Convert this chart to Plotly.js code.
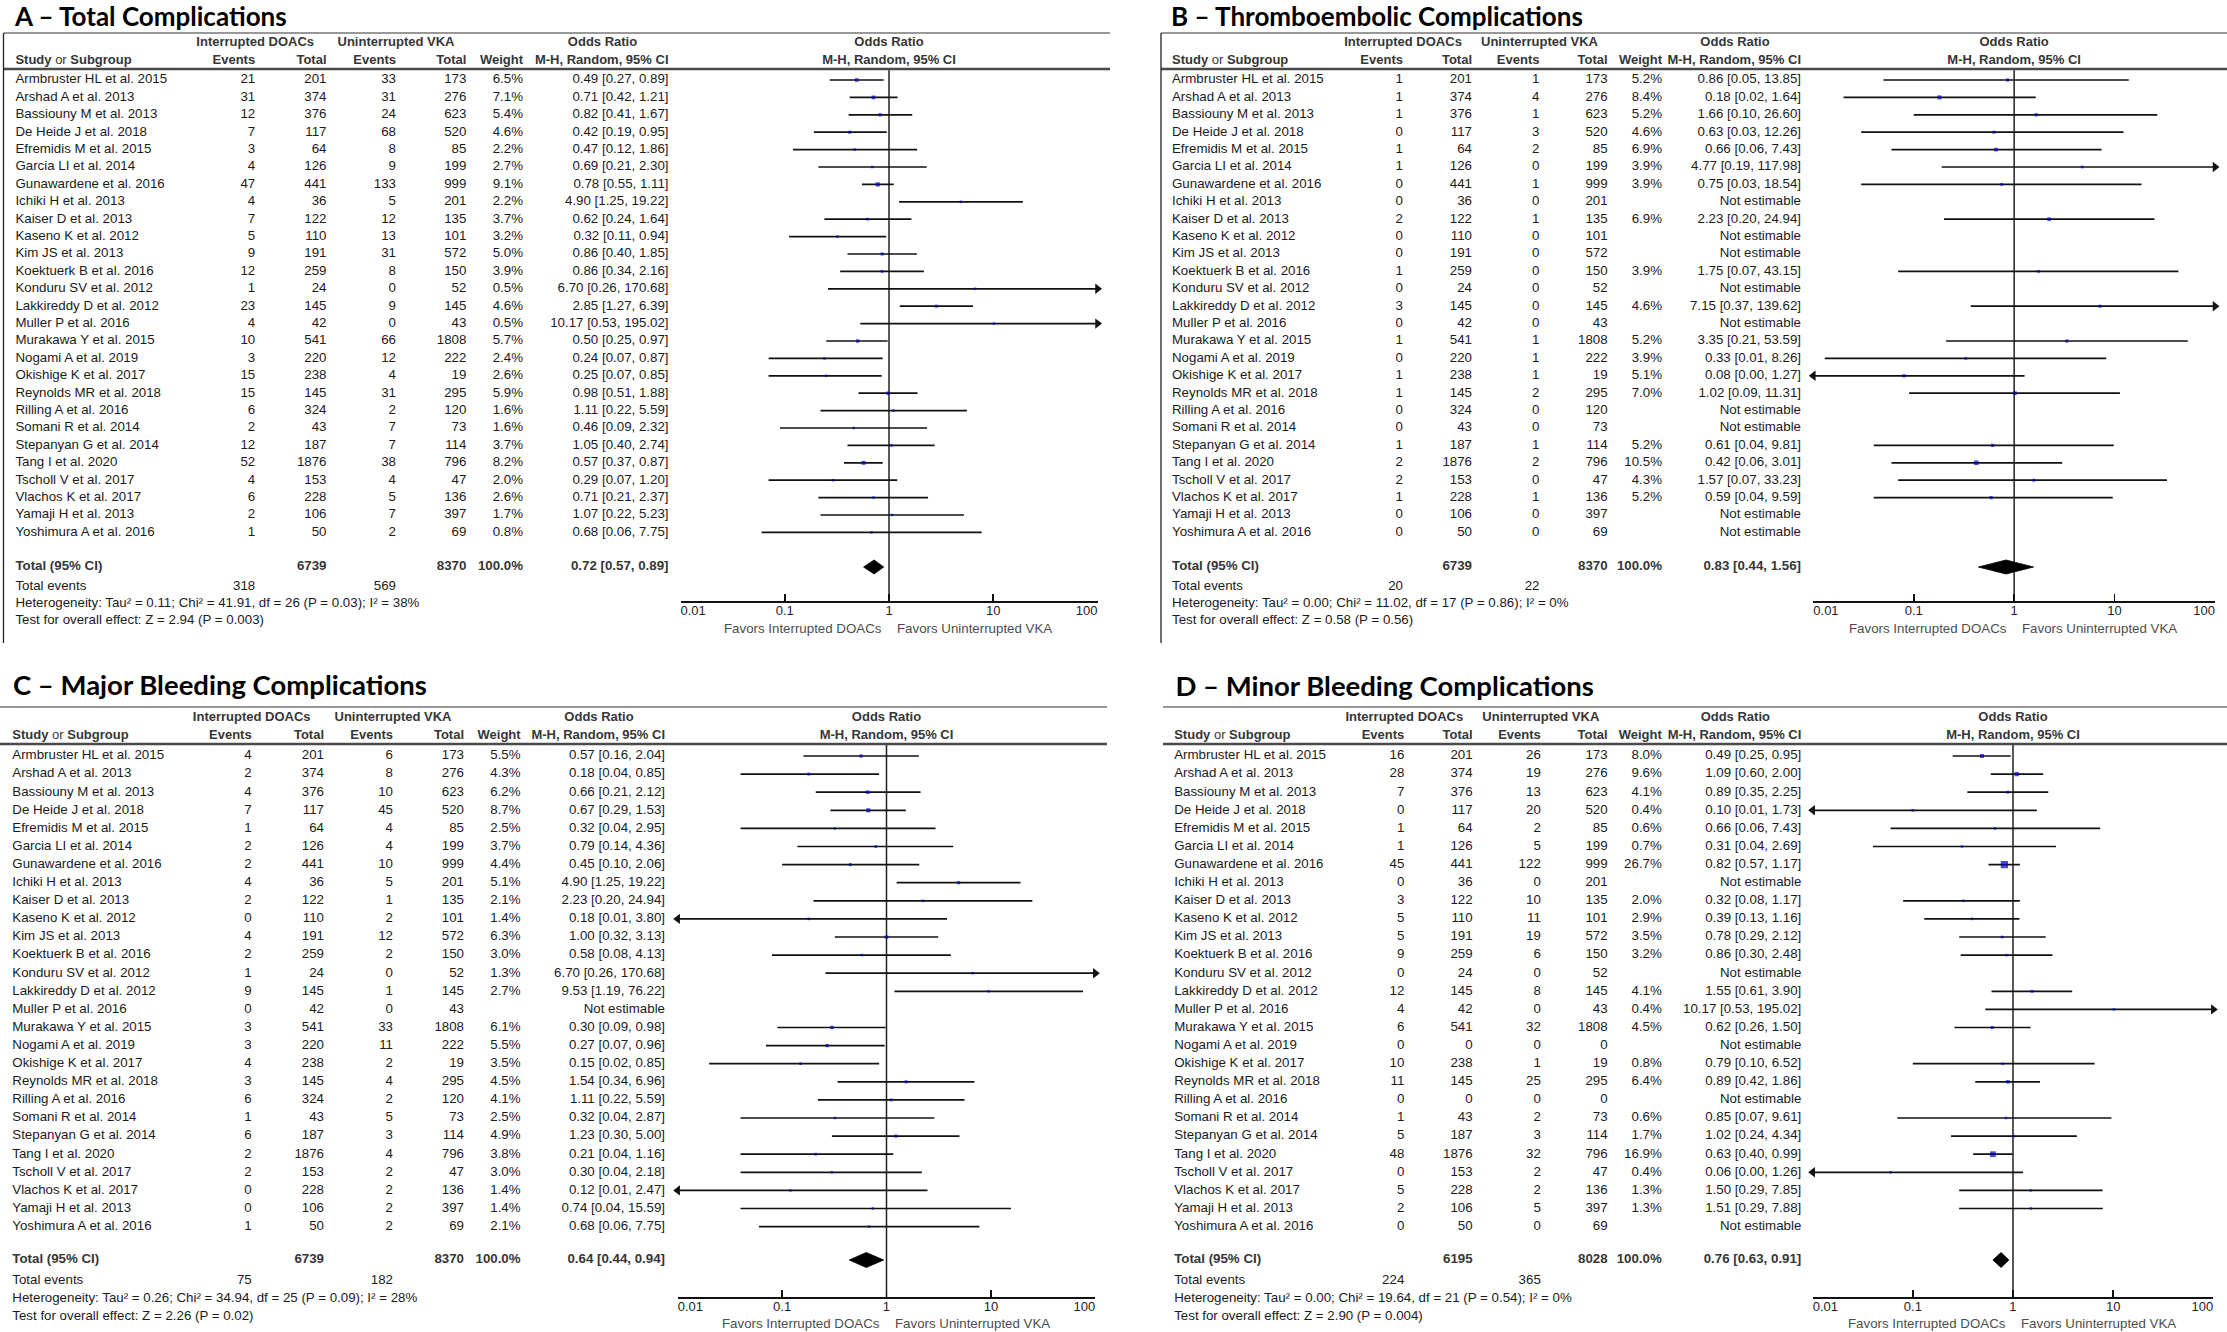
<!DOCTYPE html>
<html><head><meta charset="utf-8">
<script src="https://cdn.plot.ly/plotly-3.0.1.min.js"></script>
<style>html,body{margin:0;padding:0;background:#fff}#chart{width:2227px;height:1332px}</style>
</head><body><div id="chart"></div>
<script>
// ---------------- DATA ----------------
const studies = ['Armbruster HL et al. 2015','Arshad A et al. 2013','Bassiouny M et al. 2013','De Heide J et al. 2018','Efremidis M et al. 2015','Garcia LI et al. 2014','Gunawardene et al. 2016','Ichiki H et al. 2013','Kaiser D et al. 2013','Kaseno K et al. 2012','Kim JS et al. 2013','Koektuerk B et al. 2016','Konduru SV et al. 2012','Lakkireddy D et al. 2012','Muller P et al. 2016','Murakawa Y et al. 2015','Nogami A et al. 2019','Okishige K et al. 2017','Reynolds MR et al. 2018','Rilling A et al. 2016','Somani R et al. 2014','Stepanyan G et al. 2014','Tang I et al. 2020','Tscholl V et al. 2017','Vlachos K et al. 2017','Yamaji H et al. 2013','Yoshimura A et al. 2016'];
const tickValues = [0.01, 0.1, 1, 10, 100];
const tickLabels = ['0.01', '0.1', '1', '10', '100'];
const groupHeaders = ['Interrupted DOACs', 'Uninterrupted VKA', 'Odds Ratio'];
const columnHeaders = ['Events', 'Total', 'Events', 'Total', 'Weight', 'M-H, Random, 95% CI'];
const favorLabels = ['Favors Interrupted DOACs', 'Favors Uninterrupted VKA'];

// A – Total Complications
const aTitle = 'A – Total Complications';
const aEvDoac = [21,31,12,7,3,4,47,4,7,5,9,12,1,23,4,10,3,15,15,6,2,12,52,4,6,2,1];
const aTotDoac = [201,374,376,117,64,126,441,36,122,110,191,259,24,145,42,541,220,238,145,324,43,187,1876,153,228,106,50];
const aEvVka = [33,31,24,68,8,9,133,5,12,13,31,8,0,9,0,66,12,4,31,2,7,7,38,4,5,7,2];
const aTotVka = [173,276,623,520,85,199,999,201,135,101,572,150,52,145,43,1808,222,19,295,120,73,114,796,47,136,397,69];
const aWeight = [6.5,7.1,5.4,4.6,2.2,2.7,9.1,2.2,3.7,3.2,5.0,3.9,0.5,4.6,0.5,5.7,2.4,2.6,5.9,1.6,1.6,3.7,8.2,2.0,2.6,1.7,0.8];
const aOR = [0.49,0.71,0.82,0.42,0.47,0.69,0.78,4.90,0.62,0.32,0.86,0.86,6.70,2.85,10.17,0.50,0.24,0.25,0.98,1.11,0.46,1.05,0.57,0.29,0.71,1.07,0.68];
const aLo = [0.27,0.42,0.41,0.19,0.12,0.21,0.55,1.25,0.24,0.11,0.40,0.34,0.26,1.27,0.53,0.25,0.07,0.07,0.51,0.22,0.09,0.40,0.37,0.07,0.21,0.22,0.06];
const aHi = [0.89,1.21,1.67,0.95,1.86,2.30,1.11,19.22,1.64,0.94,1.85,2.16,170.68,6.39,195.02,0.97,0.87,0.85,1.88,5.59,2.32,2.74,0.87,1.20,2.37,5.23,7.75];
const aTotals = [6739, 8370];
const aTotalEvents = [318, 569];
const aPooled = [0.72, 0.57, 0.89];
const aHet = 'Heterogeneity: Tau² = 0.11; Chi² = 41.91, df = 26 (P = 0.03); I² = 38%';
const aTest = 'Test for overall effect: Z = 2.94 (P = 0.003)';

// B – Thromboembolic Complications
const bTitle = 'B – Thromboembolic Complications';
const bEvDoac = [1,1,1,0,1,1,0,0,2,0,0,1,0,3,0,1,0,1,1,0,0,1,2,2,1,0,0];
const bTotDoac = [201,374,376,117,64,126,441,36,122,110,191,259,24,145,42,541,220,238,145,324,43,187,1876,153,228,106,50];
const bEvVka = [1,4,1,3,2,0,1,0,1,0,0,0,0,0,0,1,1,1,2,0,0,1,2,0,1,0,0];
const bTotVka = [173,276,623,520,85,199,999,201,135,101,572,150,52,145,43,1808,222,19,295,120,73,114,796,47,136,397,69];
const bWeight = [5.2,8.4,5.2,4.6,6.9,3.9,3.9,null,6.9,null,null,3.9,null,4.6,null,5.2,3.9,5.1,7.0,null,null,5.2,10.5,4.3,5.2,null,null];
const bOR = [0.86,0.18,1.66,0.63,0.66,4.77,0.75,null,2.23,null,null,1.75,null,7.15,null,3.35,0.33,0.08,1.02,null,null,0.61,0.42,1.57,0.59,null,null];
const bLo = [0.05,0.02,0.10,0.03,0.06,0.19,0.03,null,0.20,null,null,0.07,null,0.37,null,0.21,0.013,0.004,0.09,null,null,0.04,0.06,0.07,0.04,null,null];
const bHi = [13.85,1.64,26.60,12.26,7.43,117.98,18.54,null,24.94,null,null,43.15,null,139.62,null,53.59,8.26,1.27,11.31,null,null,9.81,3.01,33.23,9.59,null,null];
const bTotals = [6739, 8370];
const bTotalEvents = [20, 22];
const bPooled = [0.83, 0.44, 1.56];
const bHet = 'Heterogeneity: Tau² = 0.00; Chi² = 11.02, df = 17 (P = 0.86); I² = 0%';
const bTest = 'Test for overall effect: Z = 0.58 (P = 0.56)';

// C – Major Bleeding Complications
const cTitle = 'C – Major Bleeding Complications';
const cEvDoac = [4,2,4,7,1,2,2,4,2,0,4,2,1,9,0,3,3,4,3,6,1,6,2,2,0,0,1];
const cTotDoac = [201,374,376,117,64,126,441,36,122,110,191,259,24,145,42,541,220,238,145,324,43,187,1876,153,228,106,50];
const cEvVka = [6,8,10,45,4,4,10,5,1,2,12,2,0,1,0,33,11,2,4,2,5,3,4,2,2,2,2];
const cTotVka = [173,276,623,520,85,199,999,201,135,101,572,150,52,145,43,1808,222,19,295,120,73,114,796,47,136,397,69];
const cWeight = [5.5,4.3,6.2,8.7,2.5,3.7,4.4,5.1,2.1,1.4,6.3,3.0,1.3,2.7,null,6.1,5.5,3.5,4.5,4.1,2.5,4.9,3.8,3.0,1.4,1.4,2.1];
const cOR = [0.57,0.18,0.66,0.67,0.32,0.79,0.45,4.90,2.23,0.18,1.00,0.58,6.70,9.53,null,0.30,0.27,0.15,1.54,1.11,0.32,1.23,0.21,0.30,0.12,0.74,0.68];
const cLo = [0.16,0.04,0.21,0.29,0.04,0.14,0.10,1.25,0.20,0.008,0.32,0.08,0.26,1.19,null,0.09,0.07,0.02,0.34,0.22,0.04,0.30,0.04,0.04,0.007,0.04,0.06];
const cHi = [2.04,0.85,2.12,1.53,2.95,4.36,2.06,19.22,24.94,3.80,3.13,4.13,170.68,76.22,null,0.98,0.96,0.85,6.96,5.59,2.87,5.00,1.16,2.18,2.47,15.59,7.75];
const cTotals = [6739, 8370];
const cTotalEvents = [75, 182];
const cPooled = [0.64, 0.44, 0.94];
const cHet = 'Heterogeneity: Tau² = 0.26; Chi² = 34.94, df = 25 (P = 0.09); I² = 28%';
const cTest = 'Test for overall effect: Z = 2.26 (P = 0.02)';

// D – Minor Bleeding Complications
const dTitle = 'D – Minor Bleeding Complications';
const dEvDoac = [16,28,7,0,1,1,45,0,3,5,5,9,0,12,4,6,0,10,11,0,1,5,48,0,5,2,0];
const dTotDoac = [201,374,376,117,64,126,441,36,122,110,191,259,24,145,42,541,0,238,145,0,43,187,1876,153,228,106,50];
const dEvVka = [26,19,13,20,2,5,122,0,10,11,19,6,0,8,0,32,0,1,25,0,2,3,32,2,2,5,0];
const dTotVka = [173,276,623,520,85,199,999,201,135,101,572,150,52,145,43,1808,0,19,295,0,73,114,796,47,136,397,69];
const dWeight = [8.0,9.6,4.1,0.4,0.6,0.7,26.7,null,2.0,2.9,3.5,3.2,null,4.1,0.4,4.5,null,0.8,6.4,null,0.6,1.7,16.9,0.4,1.3,1.3,null];
const dOR = [0.49,1.09,0.89,0.10,0.66,0.31,0.82,null,0.32,0.39,0.78,0.86,null,1.55,10.17,0.62,null,0.79,0.89,null,0.85,1.02,0.63,0.06,1.50,1.51,null];
const dLo = [0.25,0.60,0.35,0.006,0.06,0.04,0.57,null,0.08,0.13,0.29,0.30,null,0.61,0.53,0.26,null,0.10,0.42,null,0.07,0.24,0.40,0.003,0.29,0.29,null];
const dHi = [0.95,2.00,2.25,1.73,7.43,2.69,1.17,null,1.17,1.16,2.12,2.48,null,3.90,195.02,1.50,null,6.52,1.86,null,9.61,4.34,0.99,1.26,7.85,7.88,null];
const dTotals = [6195, 8028];
const dTotalEvents = [224, 365];
const dPooled = [0.76, 0.63, 0.91];
const dHet = 'Heterogeneity: Tau² = 0.00; Chi² = 19.64, df = 21 (P = 0.54); I² = 0%';
const dTest = 'Test for overall effect: Z = 2.90 (P = 0.004)';

// ---------------- LAYOUT GEOMETRY (page pixels) ----------------
const W = 2227, H = 1332;
const FONT = 'Liberation Sans, Arial, Helvetica, sans-serif';
const TITLE_FONT = 'Lato, Carlito, Calibri, sans-serif';
const TXT = '#1a1a1a', HDR = '#363636';
const vTop = {title:19, titleSize:26, top:33, h1:43, h2:61, hline:69, row0:80, step:17.4, total:567, events:587, het:604, test:621, axis:601, tick:612, fav:628, borderBottom:643, dia:7};
const vBot = {title:688, titleSize:27.5, top:707, h1:718, h2:736, hline:744, row0:756, step:18.1, total:1260, events:1281, het:1299, test:1317, axis:1297, tick:1308, fav:1323, borderBottom:null, dia:7.5};

const panels = [
  {title:aTitle, ev1:aEvDoac, tot1:aTotDoac, ev2:aEvVka, tot2:aTotVka, w:aWeight, or:aOR, lo:aLo, hi:aHi, totals:aTotals, tev:aTotalEvents, pooled:aPooled, het:aHet, test:aTest,
   v:vTop, cols:{title:15, name:15.4, ev1:255.2, tot1:326.5, ev2:396, tot2:466.4, w:523, ci:668.5}, forest:[680.5,1097.5], lines:[3.5,1110], border:3.5},
  {title:bTitle, ev1:bEvDoac, tot1:bTotDoac, ev2:bEvVka, tot2:bTotVka, w:bWeight, or:bOR, lo:bLo, hi:bHi, totals:bTotals, tev:bTotalEvents, pooled:bPooled, het:bHet, test:bTest,
   v:vTop, cols:{title:1171, name:1172, ev1:1403, tot1:1472, ev2:1539.5, tot2:1607.6, w:1662, ci:1801}, forest:[1813.3,2215], lines:[1161,2227], border:1161},
  {title:cTitle, ev1:cEvDoac, tot1:cTotDoac, ev2:cEvVka, tot2:cTotVka, w:cWeight, or:cOR, lo:cLo, hi:cHi, totals:cTotals, tev:cTotalEvents, pooled:cPooled, het:cHet, test:cTest,
   v:vBot, cols:{title:13, name:12.3, ev1:251.7, tot1:324, ev2:393, tot2:464, w:520.6, ci:665}, forest:[677.7,1095.3], lines:[0,1107], border:null},
  {title:dTitle, ev1:dEvDoac, tot1:dTotDoac, ev2:dEvVka, tot2:dTotVka, w:dWeight, or:dOR, lo:dLo, hi:dHi, totals:dTotals, tev:dTotalEvents, pooled:dPooled, het:dHet, test:dTest,
   v:{...vBot, title:689.5}, cols:{title:1175.5, name:1174.2, ev1:1404.3, tot1:1472.6, ev2:1540.8, tot2:1607.6, w:1661.8, ci:1801.3}, forest:[1812.7,2213.3], lines:[1163,2227], border:null}
];

// ---------------- BUILD ----------------
const traces = [], shapes = [], annotations = [];
const layout = {
  width: W, height: H, margin: {l:0, r:0, t:0, b:0, pad:0},
  paper_bgcolor: '#ffffff', plot_bgcolor: 'rgba(0,0,0,0)', showlegend: false,
  xaxis: {domain:[0,1], range:[0,W], visible:false, fixedrange:true},
  yaxis: {domain:[0,1], range:[H,0], visible:false, fixedrange:true},
  shapes: shapes, annotations: annotations
};

function textTrace(xs, ys, texts, pos, o) {
  o = o || {};
  return {type:'scatter', mode:'text', x:xs, y:ys, text:texts, textposition:pos,
    textfont:{family:o.family || FONT, size:o.size || 13.3, color:o.color || TXT},
    xaxis:o.xaxis || 'x', yaxis:'y', hoverinfo:'skip', cliponaxis:false, showlegend:false};
}
const f2 = v => v.toFixed(2);
const ciText = (o, l, h) => f2(o) + ' [' + f2(l) + ', ' + f2(h) + ']';

panels.forEach((p, k) => {
  const v = p.v, c = p.cols, xa = 'x' + (k + 2);
  const rowY = studies.map((_, i) => v.row0 + i * v.step);
  const same = (val) => studies.map(() => val);

  // title
  traces.push(textTrace([c.title], [v.title], ['<b>' + p.title + '</b>'], 'middle right', {family:TITLE_FONT, size:v.titleSize, color:'#000'}));
  // group headers
  traces.push(textTrace([c.ev1, c.ev2, c.ci - 66], [v.h1, v.h1, v.h1], groupHeaders.map(t => '<b>' + t + '</b>'), 'middle center', {color:HDR, size:13}));
  traces.push(textTrace([c.name], [v.h2], ['<b>Study</b> or <b>Subgroup</b>'], 'middle right', {color:HDR, size:13}));
  traces.push(textTrace([c.ev1, c.tot1, c.ev2, c.tot2, c.w, c.ci], columnHeaders.map(() => v.h2), columnHeaders.map(t => '<b>' + t + '</b>'), 'middle left', {color:HDR, size:13}));

  // study rows
  traces.push(textTrace(same(c.name), rowY, studies, 'middle right'));
  traces.push(textTrace(same(c.ev1), rowY, p.ev1.map(String), 'middle left'));
  traces.push(textTrace(same(c.tot1), rowY, p.tot1.map(String), 'middle left'));
  traces.push(textTrace(same(c.ev2), rowY, p.ev2.map(String), 'middle left'));
  traces.push(textTrace(same(c.tot2), rowY, p.tot2.map(String), 'middle left'));
  traces.push(textTrace(same(c.w), rowY, p.w.map(w => w == null ? '' : w.toFixed(1) + '%'), 'middle left'));
  traces.push(textTrace(same(c.ci), rowY, p.or.map((o, i) => o == null ? 'Not estimable' : ciText(o, p.lo[i], p.hi[i])), 'middle left'));

  // totals
  traces.push(textTrace([c.name], [v.total], ['<b>Total (95% CI)</b>'], 'middle right', {color:HDR}));
  traces.push(textTrace([c.tot1, c.tot2, c.w, c.ci], [v.total, v.total, v.total, v.total],
    ['<b>' + p.totals[0] + '</b>', '<b>' + p.totals[1] + '</b>', '<b>100.0%</b>', '<b>' + ciText(p.pooled[0], p.pooled[1], p.pooled[2]) + '</b>'], 'middle left', {color:HDR}));
  traces.push(textTrace([c.name, c.name, c.name], [v.events, v.het, v.test], ['Total events', p.het, p.test], 'middle right'));
  traces.push(textTrace([c.ev1, c.ev2], [v.events, v.events], p.tev.map(String), 'middle left'));

  // table lines
  shapes.push({type:'line', xref:'x', yref:'y', x0:p.lines[0], x1:p.lines[1], y0:v.top, y1:v.top, line:{color:'#333', width:1.2}});
  shapes.push({type:'line', xref:'x', yref:'y', x0:p.lines[0], x1:p.lines[1], y0:v.hline, y1:v.hline, line:{color:'#4a4a4a', width:2.4}});
  if (p.border != null) shapes.push({type:'line', xref:'x', yref:'y', x0:p.border, x1:p.border, y0:v.top, y1:v.borderBottom, line:{color:'#222', width:1.3}});

  // forest axis
  layout['xaxis' + (k + 2)] = {type:'log', range:[-2, 2], domain:[p.forest[0] / W, p.forest[1] / W], anchor:'free', position:1 - v.axis / H,
    showline:true, linecolor:'#111', linewidth:1.6, ticks:'inside', ticklen:7, tickwidth:1.6, tickcolor:'#111',
    tickvals:tickValues, showticklabels:false, showgrid:false, zeroline:false, fixedrange:true};

  // forest header
  traces.push(textTrace([1, 1], [v.h1, v.h2], [groupHeaders[2], columnHeaders[5]].map(t => '<b>' + t + '</b>'), 'middle center', {xaxis:xa, color:HDR, size:13}));

  // CI lines (clipped to axis range) and arrows
  const lx = [], ly = [], rArrX = [], rArrY = [], lArrX = [], lArrY = [];
  const sqX = [], sqY = [], sqS = [];
  p.or.forEach((o, i) => {
    if (o == null) return;
    const lo = Math.max(p.lo[i], 0.01), hi = Math.min(p.hi[i], 100);
    lx.push(lo, hi, null); ly.push(rowY[i], rowY[i], null);
    if (p.hi[i] > 100) { rArrX.push(100); rArrY.push(rowY[i]); }
    if (p.lo[i] < 0.01) { lArrX.push(0.01); lArrY.push(rowY[i]); }
    sqX.push(o); sqY.push(rowY[i]); sqS.push(Math.max(2.5, 1.4 * Math.sqrt(p.w[i])));
  });
  // line of no effect
  traces.push({type:'scatter', mode:'lines', x:[1, 1], y:[v.hline, v.axis], xaxis:xa, yaxis:'y', line:{color:'#222', width:1.5}, hoverinfo:'skip', cliponaxis:false});
  traces.push({type:'scatter', mode:'lines', x:lx, y:ly, xaxis:xa, yaxis:'y', line:{color:'#111', width:1.7}, connectgaps:false, hoverinfo:'skip', cliponaxis:false});
  if (rArrX.length) traces.push({type:'scatter', mode:'markers', x:rArrX, y:rArrY, xaxis:xa, yaxis:'y', marker:{symbol:'triangle-right', size:9, color:'#111'}, hoverinfo:'skip', cliponaxis:false});
  if (lArrX.length) traces.push({type:'scatter', mode:'markers', x:lArrX, y:lArrY, xaxis:xa, yaxis:'y', marker:{symbol:'triangle-left', size:9, color:'#111'}, hoverinfo:'skip', cliponaxis:false});
  traces.push({type:'scatter', mode:'markers', x:sqX, y:sqY, xaxis:xa, yaxis:'y', marker:{symbol:'square', size:sqS, color:'#0000c0', line:{width:0}}, hoverinfo:'skip', cliponaxis:false});

  // pooled diamond
  const [po, pl, ph] = p.pooled;
  traces.push({type:'scatter', mode:'lines', x:[pl, po, ph, po, pl], y:[v.total, v.total - v.dia, v.total, v.total + v.dia, v.total], xaxis:xa, yaxis:'y',
    fill:'toself', fillcolor:'#000', line:{color:'#000', width:0.8}, hoverinfo:'skip', cliponaxis:false});

  // tick labels
  traces.push(textTrace(tickValues, tickValues.map(() => v.tick), tickLabels, ['middle right', 'middle center', 'middle center', 'middle center', 'middle left'], {xaxis:xa, size:13, color:'#222'}));

  // favours labels
  annotations.push({xref:xa, yref:'y', x:0, y:v.fav, text:favorLabels[0], xanchor:'right', yanchor:'middle', xshift:-5, showarrow:false, font:{family:FONT, size:13.3, color:'#4d4d4d'}});
  annotations.push({xref:xa, yref:'y', x:0, y:v.fav, text:favorLabels[1], xanchor:'left', yanchor:'middle', xshift:6, showarrow:false, font:{family:FONT, size:13.3, color:'#4d4d4d'}});
});

Plotly.newPlot('chart', traces, layout, {staticPlot:true, displayModeBar:false});
</script>
</body></html>
